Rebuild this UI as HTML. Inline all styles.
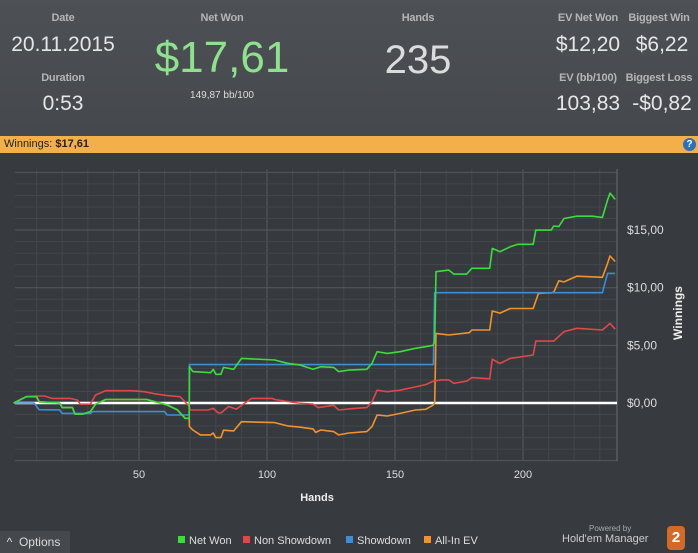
<!DOCTYPE html>
<html><head><meta charset="utf-8"><style>
body{margin:0;width:698px;height:553px;overflow:hidden;background:#373a3e;font-family:"Liberation Sans",sans-serif;position:relative}
.hdr{position:absolute;left:0;top:0;width:698px;height:136px;background:linear-gradient(#4d5054,#45484c)}
.t{position:absolute;color:#c9c9c9;white-space:nowrap;transform:translateX(-50%)}
.lbl{font-size:11px;font-weight:bold;color:#b5b5b5;letter-spacing:-0.2px}
.val{font-size:21px;color:#e6e6e6}
</style></head><body>
<div class="hdr">
<div class="t lbl" style="left:63px;top:12px">Date</div>
<div class="t val" style="left:63px;top:33px">20.11.2015</div>
<div class="t lbl" style="left:63px;top:72px">Duration</div>
<div class="t val" style="left:63px;top:92px">0:53</div>
<div class="t lbl" style="left:222px;top:12px">Net Won</div>
<div class="t" style="left:222px;top:33px;font-size:44px;color:#8fe08f">$17,61</div>
<div class="t" style="left:222px;top:90px;font-size:10px;color:#ddd">149,87 bb/100</div>
<div class="t lbl" style="left:418px;top:12px">Hands</div>
<div class="t" style="left:418px;top:38px;font-size:40px;color:#dcdcdc">235</div>
<div class="t lbl" style="left:588px;top:12px">EV Net Won</div>
<div class="t val" style="left:588px;top:33px">$12,20</div>
<div class="t lbl" style="left:659px;top:12px">Biggest Win</div>
<div class="t val" style="left:662px;top:33px">$6,22</div>
<div class="t lbl" style="left:588px;top:72px">EV (bb/100)</div>
<div class="t val" style="left:588px;top:92px">103,83</div>
<div class="t lbl" style="left:659px;top:72px">Biggest Loss</div>
<div class="t val" style="left:662px;top:92px">-$0,82</div>
</div>
<div style="position:absolute;left:0;top:136px;width:698px;height:17px;background:#f3b04a">
<span style="position:absolute;left:4px;top:2px;font-size:11px;color:#222">Winnings: <b>$17,61</b></span>
<div style="position:absolute;left:683px;top:2px;width:13px;height:13px;border-radius:50%;background:#2f6fb8;color:#fff;font-size:10px;font-weight:bold;text-align:center;line-height:13px">?</div>
</div>
<svg id="c" width="698" height="553" style="position:absolute;left:0;top:0"></svg>
<div style="position:absolute;left:0;top:531px;width:70px;height:22px;background:#45484c;color:#ddd;font-size:12px;line-height:22px">&nbsp;&nbsp;^&nbsp;&nbsp;Options</div>
<div style="position:absolute;left:589px;top:524px;font-size:8px;color:#aaa">Powered by</div>
<div style="position:absolute;left:562px;top:533px;font-size:11px;color:#ccc">Hold'em Manager</div>
<div style="position:absolute;left:667px;top:526px;width:18px;height:24px;background:#d26a2a;border-radius:4px;color:#fff;font-weight:bold;font-size:15px;text-align:center;line-height:24px">2</div>
<script>
const gHands=[1,6,10,11,19,20,24,25,28,31,33,37,53,61,65,68,69.6,69.7,71,78,79,80,82,83,87,90,103,108,113,118,121,126,128,132,139,141,143,147,152,158,162,164.8,165.5,166,171,173,178,180,187,188,191,195,198,204,205,209,211,212,214,216,221,227,231,233,234,236];
const gVals=[0,0.55,0.55,0.1,0,-0.4,-0.4,-0.96,-0.96,-0.75,-0.1,0.3,0.3,-0.17,-0.6,-1.33,-1.33,3.15,2.72,2.63,2.92,2.49,2.49,3.09,2.92,3.87,3.73,3.44,3.29,2.92,3.15,3.09,2.72,2.85,2.92,3.44,4.45,4.3,4.45,4.74,4.88,5.0,5.3,11.39,11.53,11.18,11.18,11.68,11.68,13.41,13.12,13.55,13.76,13.76,15.0,15.0,15.0,15.35,15.3,16.0,16.2,16.2,16.1,17.6,18.2,17.66];
const rHands=[1,6,10,13,16,23,26,27,31,33,37,47,52,56,61,66,68,69.6,70,77,79,81,82,85,88,94,102,103,112,118,120,126,128,134,139,141,143,147,152,158,162,165,168,171,173,178,180,187,188,191,195,204,205,211,212,216,221,231,234,236];
const rVals=[0,0.55,0.61,0.61,0.4,0.4,0.25,-0.1,-0.1,0.69,1.07,1.07,0.98,0.81,0.64,0.55,0.1,-0.3,-0.61,-0.61,-0.47,-0.87,-0.87,-0.3,-0.53,0.4,0.4,0.3,0.0,-0.1,-0.4,-0.2,-0.61,-0.47,-0.4,0.1,1.11,0.98,1.11,1.4,1.6,1.9,2.0,2.0,1.7,1.9,2.2,2.1,3.8,3.43,3.87,4.16,5.37,5.37,5.37,6.19,6.48,6.33,6.9,6.4];
const bHands=[1,9,11,19,20,31,32,60,61,68,69.6,69.7,165,165.5,231,233,236];
const bVals=[0,0,-0.58,-0.6,-0.9,-0.9,-0.75,-0.75,-1.04,-1.04,-1.04,3.33,3.33,9.57,9.57,11.24,11.24];
const oHands=[1,6,10,11,19,20,24,25,28,31,33,37,53,61,65,68,69.6,69.7,71,74,78,79,80,82,83,87,90,103,108,113,118,119,121,126,128,132,139,141,143,147,152,158,162,164.8,165.5,166,171,179,180,187,188,191,195,204,206,209,211,212,214,216,221,231,233,234,236];
const oVals=[0,0.55,0.55,0.1,0,-0.4,-0.4,-0.96,-0.96,-0.75,-0.1,0.3,0.3,-0.17,-0.6,-1.33,-1.33,-2.05,-2.34,-2.77,-2.77,-2.6,-3.0,-3.0,-2.36,-2.42,-1.62,-1.7,-1.99,-2.1,-2.25,-2.55,-2.34,-2.48,-2.77,-2.6,-2.48,-2.05,-1.04,-1.13,-0.9,-0.61,-0.55,-0.2,0.0,6.04,5.9,6.1,6.33,6.33,7.98,7.8,8.2,8.2,9.5,9.55,9.55,9.6,10.6,10.5,11.0,10.9,12.1,12.75,12.27];
const xTicks=[50,100,150,200];
const yTicks=[0,5,10,15];
const yTickLabels=["$0,00","$5,00","$10,00","$15,00"];
const legendNames=["Net Won","Non Showdown","Showdown","All-In EV"];
const colors=["#3ddc3d","#e04848","#3a8fd6","#f0922e"];
const L=15,R=617,T=169,B=461;
const X=h=>11+h*2.56;
const Y=v=>403-v*11.53;
const svg=document.getElementById('c');const NS='http://www.w3.org/2000/svg';
function mk(t,a,p){const e=document.createElementNS(NS,t);for(const k in a)e.setAttribute(k,a[k]);(p||svg).appendChild(e);return e;}
const bg=mk('rect',{x:L,y:T,width:R-L,height:B-T,fill:'#363a3e'});


for(let h=10;h<=230;h+=10){const ln=mk('line',{x1:X(h),x2:X(h),y1:T,y2:B,stroke:h%50==0?'#55595d':'#43474b','stroke-width':1});

}
for(let v=-5;v<=20;v+=1){const ln=mk('line',{x1:L,x2:R,y1:Y(v),y2:Y(v),stroke:v%5==0?'#55595d':'#43474b','stroke-width':1});

}
const ax=mk('line',{x1:R,x2:R,y1:T,y2:B,stroke:'#6a6e72'});


const zl=mk('line',{x1:L,x2:R,y1:Y(0),y2:Y(0),stroke:'#fff','stroke-width':2.5});


const series=[[gHands,gVals,'net-won-line'],[rHands,rVals,'non-showdown-line'],[bHands,bVals,'showdown-line'],[oHands,oVals,'all-in-ev-line']];
[3,1,2,0].forEach(i=>{const s=series[i];const pts=s[0].map((h,j)=>X(h).toFixed(1)+','+Y(s[1][j]).toFixed(1)).join(' ');
const pl=mk('polyline',{points:pts,fill:'none',stroke:colors[i],'stroke-width':1.6,'stroke-linejoin':'round'});

});
xTicks.forEach(h=>{const t=mk('text',{x:X(h),y:478,'text-anchor':'middle',fill:'#ddd','font-size':11});t.textContent=h;

});
yTicks.forEach((v,i)=>{const t=mk('text',{x:627,y:Y(v)+4,fill:'#ddd','font-size':12});t.textContent=yTickLabels[i];

});
const xt=mk('text',{x:317,y:501,'text-anchor':'middle',fill:'#eee','font-size':11,'font-weight':'bold'});xt.textContent='Hands';


const yt=mk('text',{x:0,y:0,'text-anchor':'middle',fill:'#eee','font-size':12,'font-weight':'bold',transform:'translate(682,313) rotate(-90)'});yt.textContent='Winnings';


const lx=[178,243,346,424];
legendNames.forEach((n,i)=>{const g=mk('g',{});


mk('rect',{x:lx[i],y:536,width:7,height:7,fill:colors[i]},g);
const t=mk('text',{x:lx[i]+11,y:544,fill:'#ddd','font-size':11},g);t.textContent=n;});
</script>
</body></html>
